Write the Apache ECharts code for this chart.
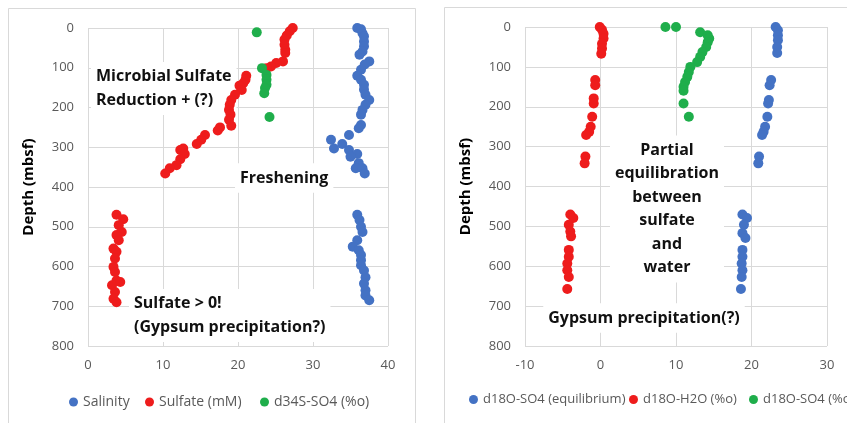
<!DOCTYPE html>
<html>
<head>
<meta charset="utf-8">
<script src="https://cdn.jsdelivr.net/npm/echarts@6/dist/echarts.min.js"></script>
<style>
  html, body { margin: 0; padding: 0; background: #fff; }
  #chart { width: 847px; height: 423px; }
</style>
</head>
<body>
<div id="chart"></div>
<script>
// Pore-water profiles: [value, depth (mbsf)]
const salinity = [
  [35.9, 0], [36.4, 3], [36.6, 13], [36.8, 21], [36.8, 34], [36.8, 46], [36.6, 59], [36.2, 67],
  [37.5, 84], [36.9, 92], [36.4, 105], [35.9, 120], [36.4, 130], [36.8, 143], [36.8, 155],
  [37.0, 168], [37.5, 181], [37.0, 193], [36.6, 206], [36.4, 218], [36.4, 244], [36.1, 252],
  [34.8, 269], [32.4, 281], [33.9, 292], [32.8, 303], [34.8, 307], [35.9, 317], [35.0, 324],
  [36.1, 340], [35.7, 353], [36.6, 353], [36.9, 366],
  [35.9, 470], [36.2, 483], [36.4, 500], [36.6, 513], [35.9, 534], [35.3, 550], [36.1, 559],
  [36.4, 571], [36.4, 584], [36.4, 597], [36.8, 610], [37.0, 627], [36.8, 643], [37.0, 660],
  [37.0, 673], [37.5, 685]
];
const sulfate = [
  [27.3, 0], [26.9, 8], [26.5, 19], [26.2, 29], [26.2, 42], [26.3, 55], [26.3, 63], [26.0, 84],
  [25.1, 88], [24.4, 97], [23.8, 101], [21.1, 120], [21.0, 130], [20.7, 139], [20.2, 145],
  [20.5, 156], [19.6, 168], [19.1, 181], [18.9, 193], [18.8, 206], [19.0, 218], [18.8, 231],
  [19.1, 246], [17.6, 250], [17.3, 258], [15.6, 269], [15.1, 281], [14.5, 292], [12.7, 303],
  [12.3, 307], [12.9, 317], [12.3, 330], [11.8, 345], [10.9, 353], [10.3, 366],
  [3.8, 470], [4.7, 481], [4.1, 496], [4.5, 513], [3.8, 521], [4.1, 534], [3.4, 555], [3.8, 563],
  [3.6, 580], [3.4, 601], [3.6, 614], [3.8, 635], [4.3, 639], [3.2, 647], [3.6, 664],
  [3.4, 681], [3.8, 690]
];
const d34S = [
  [22.5, 11], [23.2, 101], [23.8, 118], [23.8, 130], [23.8, 143], [23.6, 151], [23.5, 164], [24.2, 224]
];
const d18OEquilibrium = [
  [23.2, 0], [23.5, 8], [23.5, 21], [23.5, 33], [23.4, 50], [23.4, 65], [22.6, 133], [22.4, 146],
  [22.3, 183], [22.2, 192], [22.1, 225], [21.8, 250], [21.6, 263], [21.4, 271], [21.0, 325], [20.9, 342],
  [18.8, 470], [19.4, 479], [19.0, 496], [18.8, 517], [19.2, 529], [18.8, 559], [18.8, 576],
  [18.7, 593], [18.8, 610], [18.7, 627], [18.6, 657]
];
const d18OH2O = [
  [-0.1, 0], [0.2, 7], [0.4, 17], [0.4, 29], [0.2, 42], [0.2, 54], [0.1, 67], [-0.7, 133], [-0.7, 146],
  [-0.9, 179], [-0.9, 192], [-1.1, 225], [-1.3, 250], [-1.5, 263], [-1.9, 271], [-2.0, 325], [-2.1, 342],
  [-4.0, 470], [-3.6, 479], [-4.2, 496], [-4.0, 513], [-3.9, 525], [-4.2, 559], [-4.2, 576],
  [-4.4, 593], [-4.4, 610], [-4.2, 627], [-4.4, 657]
];
const d18OSO4 = [
  [8.6, 0], [10.0, 0], [13.2, 13], [14.2, 21], [14.4, 29], [14.2, 38], [14.0, 50], [13.5, 63],
  [13.2, 75], [12.8, 88], [11.9, 100], [11.7, 113], [11.5, 125], [11.2, 138], [11.0, 150],
  [11.0, 160], [11.0, 192], [11.7, 225]
];

const leftNames = ['Salinity', 'Sulfate (mM)', 'd34S-SO4 (%o)'];
const rightNames = ['d18O-SO4 (equilibrium)', 'd18O-H2O (%o)', 'd18O-SO4 (%o)'];

const BLUE = '#4472c4', RED = '#ee1c1c', GREEN = '#1fae4b';
const FONT = '"Open Sans", "Liberation Sans", sans-serif';
const GRID_COLOR = '#d9d9d9';
const LABEL = { color: '#595959', fontSize: 13, fontFamily: FONT };

function depthAxis(gridIndex, gap) {
  return {
    type: 'value', gridIndex, inverse: true, min: 0, max: 800, interval: 100,
    name: 'Depth (mbsf)', nameLocation: 'middle', nameGap: gap,
    nameTextStyle: { fontFamily: FONT, fontWeight: 'bold', fontSize: 15, color: '#000' },
    axisLine: { show: false }, axisTick: { show: false },
    axisLabel: Object.assign({ margin: 14 }, LABEL),
    splitLine: { lineStyle: { color: GRID_COLOR, width: 1 } }
  };
}
function valueAxis(gridIndex, min, max) {
  return {
    type: 'value', gridIndex, min, max, interval: 10,
    axisLine: { show: false }, axisTick: { show: false },
    axisLabel: Object.assign({ margin: 13 }, LABEL),
    splitLine: { lineStyle: { color: GRID_COLOR, width: 1 } }
  };
}
function scatter(name, data, color, idx) {
  return {
    name, type: 'scatter', data, xAxisIndex: idx, yAxisIndex: idx,
    symbolSize: 10, itemStyle: { color, opacity: 1 }
  };
}
// One legend entry, placed at its own left offset
function legendItem(name, left, top, size) {
  return {
    data: [name], left, top, icon: 'circle', itemWidth: 9, itemHeight: 9,
    textStyle: { color: '#595959', fontSize: size, fontFamily: FONT }
  };
}
// White-filled text boxes laid over the plot area
function note(text, x, y, align) {
  return {
    type: 'text', x, y, z: 1,
    style: {
      text, x: 0, y: 0, align: align || 'left', verticalAlign: 'middle',
      font: 'bold 16px ' + FONT, fill: '#111', lineHeight: 23.5,
      backgroundColor: '#fff', padding: [3, 5]
    }
  };
}

const chart = echarts.init(document.getElementById('chart'), null, { renderer: 'canvas' });
chart.setOption({
  animation: false,
  backgroundColor: '#fff',
  grid: [
    { left: 88, top: 28, width: 300, height: 318 },
    { left: 525, top: 27, width: 302, height: 319 }
  ],
  xAxis: [valueAxis(0, 0, 40), valueAxis(1, -10, 30)],
  yAxis: [depthAxis(0, 52), depthAxis(1, 52)],
  legend: [
    legendItem(leftNames[0], 64, 390, 14),
    legendItem(leftNames[1], 140, 390, 14),
    legendItem(leftNames[2], 255, 390, 14),
    legendItem(rightNames[0], 464, 388, 13),
    legendItem(rightNames[1], 624, 388, 13),
    legendItem(rightNames[2], 744, 388, 13)
  ],
  series: [
    scatter(leftNames[0], salinity, BLUE, 0),
    scatter(leftNames[1], sulfate, RED, 0),
    scatter(leftNames[2], d34S, GREEN, 0),
    scatter(rightNames[0], d18OEquilibrium, BLUE, 1),
    scatter(rightNames[1], d18OH2O, RED, 1),
    scatter(rightNames[2], d18OSO4, GREEN, 1)
  ],
  graphic: [
    { type: 'rect', shape: { x: 8.5, y: 8.5, width: 407, height: 430 }, style: { fill: 'none', stroke: GRID_COLOR, lineWidth: 1 }, z: -1 },
    { type: 'rect', shape: { x: 444.5, y: 7.5, width: 430, height: 430 }, style: { fill: 'none', stroke: GRID_COLOR, lineWidth: 1 }, z: -1 },
    note('Microbial Sulfate\nReduction + (?)', 91, 88.5),
    note('Freshening', 235, 178),
    note('Sulfate > 0!\n(Gypsum precipitation?)', 129, 315.5),
    note('Partial\nequilibration\nbetween\nsulfate\nand\nwater', 667, 209, 'center'),
    note('Gypsum precipitation(?)', 644, 318, 'center')
  ]
});
</script>
</body>
</html>
